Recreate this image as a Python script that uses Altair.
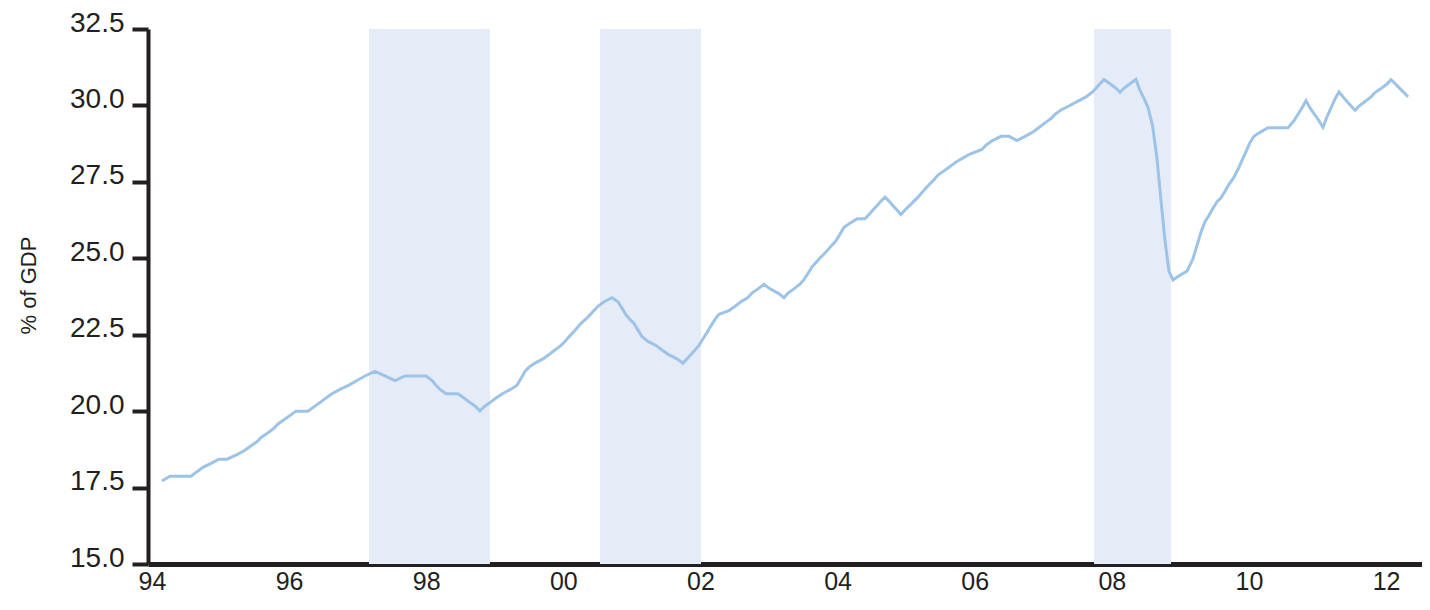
import altair as alt
import pandas as pd

# Line series (decimal year, value)
dates = [
    1994.146, 1994.263, 1994.569, 1994.656, 1994.744, 1994.861, 1994.977, 1995.094, 1995.240, 1995.356,
    1995.444, 1995.531, 1995.597, 1995.692, 1995.779, 1995.838, 1995.925, 1996.013, 1996.100, 1996.275,
    1996.363, 1996.450, 1996.538, 1996.625, 1996.749, 1996.873, 1996.990, 1997.107, 1997.253, 1997.398,
    1997.544, 1997.690, 1997.996, 1998.084, 1998.142, 1998.201, 1998.288, 1998.463, 1998.551, 1998.638,
    1998.726, 1998.784, 1998.843, 1998.930, 1999.018, 1999.112, 1999.236, 1999.324, 1999.382, 1999.440,
    1999.499, 1999.586, 1999.703, 1999.791, 1999.878, 1999.966, 2000.024, 2000.082, 2000.141, 2000.199,
    2000.257, 2000.323, 2000.389, 2000.447, 2000.505, 2000.593, 2000.710, 2000.797, 2000.855, 2000.914,
    2000.972, 2001.030, 2001.089, 2001.147, 2001.234, 2001.351, 2001.439, 2001.534, 2001.658, 2001.745,
    2001.803, 2001.862, 2001.920, 2001.978, 2002.037, 2002.095, 2002.153, 2002.212, 2002.270, 2002.416,
    2002.504, 2002.591, 2002.686, 2002.751, 2002.839, 2002.926, 2003.014, 2003.131, 2003.218, 2003.277,
    2003.364, 2003.451, 2003.510, 2003.568, 2003.627, 2003.685, 2003.743, 2003.802, 2003.860, 2003.918,
    2003.977, 2004.035, 2004.093, 2004.181, 2004.283, 2004.400, 2004.458, 2004.516, 2004.575, 2004.633,
    2004.691, 2004.750, 2004.808, 2004.866, 2004.925, 2004.983, 2005.049, 2005.114, 2005.173, 2005.231,
    2005.289, 2005.348, 2005.406, 2005.464, 2005.552, 2005.639, 2005.727, 2005.844, 2005.931, 2006.106,
    2006.164, 2006.259, 2006.383, 2006.500, 2006.617, 2006.734, 2006.850, 2006.938, 2007.025, 2007.113,
    2007.171, 2007.258, 2007.382, 2007.506, 2007.623, 2007.711, 2007.769, 2007.827, 2007.886, 2007.973,
    2008.061, 2008.119, 2008.177, 2008.265, 2008.352, 2008.411, 2008.469, 2008.527, 2008.593, 2008.658,
    2008.716, 2008.775, 2008.833, 2008.892, 2008.980, 2009.097, 2009.184, 2009.242, 2009.301, 2009.359,
    2009.418, 2009.476, 2009.534, 2009.593, 2009.651, 2009.709, 2009.775, 2009.841, 2009.899, 2009.957,
    2010.015, 2010.074, 2010.161, 2010.278, 2010.570, 2010.657, 2010.716, 2010.774, 2010.832, 2010.891,
    2010.956, 2011.022, 2011.080, 2011.139, 2011.197, 2011.255, 2011.314, 2011.372, 2011.430, 2011.489,
    2011.547, 2011.605, 2011.693, 2011.781, 2011.839, 2011.926, 2012.013, 2012.072, 2012.137, 2012.203,
    2012.261, 2012.320,
]
values = [
    17.72, 17.87, 17.87, 18.02, 18.16, 18.29, 18.43, 18.43, 18.58, 18.72,
    18.87, 19.00, 19.15, 19.29, 19.44, 19.58, 19.72, 19.86, 20.00, 20.00,
    20.14, 20.28, 20.43, 20.57, 20.72, 20.85, 21.00, 21.15, 21.30, 21.15,
    21.00, 21.15, 21.15, 21.01, 20.85, 20.71, 20.57, 20.57, 20.43, 20.28,
    20.14, 20.01, 20.14, 20.28, 20.43, 20.57, 20.72, 20.85, 21.07, 21.30,
    21.44, 21.57, 21.71, 21.85, 22.00, 22.15, 22.28, 22.43, 22.57, 22.72,
    22.87, 23.00, 23.15, 23.29, 23.43, 23.58, 23.71, 23.58, 23.37, 23.15,
    23.00, 22.87, 22.65, 22.44, 22.28, 22.15, 22.00, 21.85, 21.71, 21.57,
    21.71, 21.85, 22.00, 22.15, 22.37, 22.57, 22.79, 23.00, 23.17, 23.29,
    23.43, 23.58, 23.71, 23.86, 24.00, 24.15, 24.00, 23.86, 23.71, 23.86,
    24.00, 24.15, 24.30, 24.50, 24.72, 24.86, 25.01, 25.14, 25.28, 25.43,
    25.57, 25.79, 26.01, 26.15, 26.29, 26.29, 26.43, 26.58, 26.72, 26.87,
    27.00, 26.87, 26.72, 26.58, 26.43, 26.58, 26.72, 26.87, 27.00, 27.15,
    27.30, 27.44, 27.57, 27.72, 27.86, 28.00, 28.15, 28.30, 28.41, 28.56,
    28.70, 28.85, 28.99, 28.99, 28.85, 28.99, 29.13, 29.28, 29.43, 29.57,
    29.71, 29.85, 29.99, 30.14, 30.28, 30.43, 30.56, 30.71, 30.85, 30.71,
    30.56, 30.43, 30.56, 30.71, 30.85, 30.49, 30.23, 29.94, 29.35, 28.28,
    26.92, 25.58, 24.58, 24.29, 24.43, 24.58, 24.99, 25.42, 25.86, 26.20,
    26.41, 26.64, 26.85, 26.98, 27.19, 27.42, 27.63, 27.91, 28.20, 28.49,
    28.78, 28.99, 29.12, 29.27, 29.27, 29.50, 29.71, 29.92, 30.16, 29.92,
    29.71, 29.50, 29.29, 29.63, 29.92, 30.21, 30.44, 30.28, 30.13, 29.98,
    29.84, 29.98, 30.13, 30.28, 30.42, 30.55, 30.70, 30.84, 30.70, 30.55,
    30.42, 30.28,
]
assert len(dates) == len(values), (len(dates), len(values))

# Shaded periods
rec_start = [1997.165, 2000.534, 2007.740]
rec_end = [1998.930, 2002.008, 2008.863]

x_ticks = [1994, 1996, 1998, 2000, 2002, 2004, 2006, 2008, 2010, 2012]
y_ticks = [15.0, 17.5, 20.0, 22.5, 25.0, 27.5, 30.0, 32.5]
y_title = "% of GDP"

df = pd.DataFrame({"year": dates, "value": values})
rec_df = pd.DataFrame({"start": rec_start, "end": rec_end})

W, H = 1274, 535
INK = "#231f20"
FONT = "Liberation Sans"

xscale = alt.Scale(domain=[1993.942, 2012.524], nice=False, zero=False)
yscale = alt.Scale(domain=[15, 32.5], nice=False, zero=False)

xaxis = alt.Axis(
    values=x_ticks,
    labelExpr="slice(toString(datum.value), 2)",
    ticks=False, grid=False,
    domainColor=INK, domainWidth=5,
    labelFont=FONT, labelFontSize=25, labelColor=INK,
    labelPadding=5, labelFlush=False, labelOverlap=False,
    title=None,
)
yaxis = alt.Axis(
    values=y_ticks, format=".1f",
    grid=False,
    tickSize=16, tickWidth=4, tickColor=INK,
    domainColor=INK, domainWidth=4,
    labelFont=FONT, labelFontSize=28, labelColor=INK,
    labelPadding=8, labelFlush=False, labelOverlap=False,
    labelBaseline="alphabetic", labelOffset=2,
    title=y_title, titleFont=FONT, titleFontSize=22, titleFontWeight="normal",
    titleColor=INK, titleAngle=270, titleAlign="center", titleBaseline="middle",
    titleX=-120, titleY=256,
)

shade = alt.Chart(rec_df).mark_rect(color="#e5ecf8").encode(
    x=alt.X("start:Q", scale=xscale, axis=xaxis),
    x2="end:Q",
    y=alt.value(0),
    y2=alt.value(H),
)

line = alt.Chart(df).mark_line(color="#9dc3e6", strokeWidth=3).encode(
    x=alt.X("year:Q", scale=xscale, axis=xaxis),
    y=alt.Y("value:Q", scale=yscale, axis=yaxis),
)

chart = (
    alt.layer(shade, line)
    .properties(
        width=W, height=H,
        padding={"left": 140, "top": 21, "right": 0, "bottom": 38},
        autosize=alt.AutoSizeParams(type="none"),
    )
    .configure_view(stroke=None)
)

chart.save("out.html", embed_options={"renderer": "svg", "actions": False})
